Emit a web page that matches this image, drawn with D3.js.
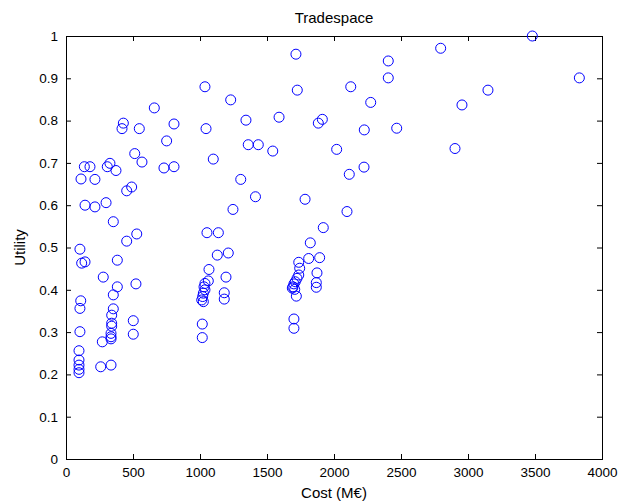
<!DOCTYPE html>
<html>
<head>
<meta charset="utf-8">
<script src="https://cdn.jsdelivr.net/npm/d3@7"></script>
<style>
  body { margin: 0; background: #fff; }
  svg text { font-family: "Liberation Sans", Arial, sans-serif; fill: #000; }
</style>
</head>
<body>
<div id="chart"></div>
<script>
// cost (M€) and utility
const cost = [
  112, 216, 137, 179, 308, 328, 373, 428, 418, 547, 513, 567, 490, 453, 142, 216,
  299, 353, 528, 453, 104, 117, 142, 383, 278, 383, 522, 353, 110, 104, 353, 341,
  341, 341, 502, 104, 336, 336, 336, 271, 502, 97, 97, 97, 97, 97, 259, 336,
  659, 751, 731, 806, 806,
  1037, 1229, 1343, 1045, 1360, 1435, 1099, 1304, 1414, 1246, 1052, 1137, 1129, 1211, 1067, 1194,
  1062, 1037, 1030, 1037, 1025, 1020, 1013, 1025, 1181, 1181, 1017, 1017,
  1716, 1726, 1590, 1913, 1883, 1543, 1784, 1920, 1823, 1811, 1893, 1737, 1744, 1873, 1737, 1724,
  1711, 1701, 1694, 1689, 1707, 1868, 1868, 1719, 1701, 1701,
  2020, 2097, 2114, 2125, 2224, 2226, 2274, 2405, 2405, 2468, 2796, 2903, 2955, 3149, 3480, 3831
];
const utility = [
  0.662, 0.661, 0.691, 0.691, 0.691, 0.699, 0.682, 0.794, 0.781, 0.781, 0.722, 0.702, 0.643, 0.634, 0.600, 0.596,
  0.606, 0.561, 0.532, 0.515, 0.496, 0.463, 0.466, 0.470, 0.430, 0.407, 0.414, 0.388, 0.374, 0.356, 0.355, 0.340,
  0.321, 0.314, 0.327, 0.301, 0.297, 0.289, 0.284, 0.277, 0.295, 0.256, 0.234, 0.222, 0.212, 0.204, 0.218, 0.222,
  0.830, 0.752, 0.688, 0.691, 0.792,
  0.880, 0.849, 0.801, 0.781, 0.743, 0.743, 0.709, 0.661, 0.620, 0.590, 0.535, 0.535, 0.482, 0.487, 0.448, 0.430,
  0.421, 0.415, 0.407, 0.400, 0.392, 0.384, 0.376, 0.372, 0.393, 0.378, 0.319, 0.287,
  0.957, 0.872, 0.808, 0.803, 0.794, 0.728, 0.614, 0.547, 0.511, 0.474, 0.476, 0.465, 0.451, 0.440, 0.435, 0.427,
  0.419, 0.414, 0.407, 0.404, 0.401, 0.417, 0.406, 0.385, 0.331, 0.309,
  0.732, 0.585, 0.673, 0.880, 0.690, 0.778, 0.843, 0.941, 0.901, 0.782, 0.971, 0.734, 0.837, 0.872, 1.0, 0.901
];
const xTicks = [0, 500, 1000, 1500, 2000, 2500, 3000, 3500, 4000];
const yTicks = [0, 0.1, 0.2, 0.3, 0.4, 0.5, 0.6, 0.7, 0.8, 0.9, 1];

const width = 620, height = 502;
const margin = {top: 36, right: 18, bottom: 43, left: 66};
const w = width - margin.left - margin.right, h = height - margin.top - margin.bottom;

const svg = d3.select('#chart').append('svg')
  .attr('width', width)
  .attr('height', height);

const g = svg.append('g')
  .attr('transform', `translate(${margin.left},${margin.top})`);

const x = d3.scaleLinear().domain([0, 4000]).range([0, w]);
const y = d3.scaleLinear().domain([0, 1]).range([h, 0]);

// axes, ticks pointing inwards like matlab
const tick = 5;
const fmt = d => String(d);

g.append('g')
  .attr('transform', `translate(0,${h})`)
  .call(d3.axisBottom(x).tickValues(xTicks).tickSizeInner(-tick).tickSizeOuter(0).tickPadding(8).tickFormat(fmt))
  .call(a => a.selectAll('text').attr('font-size', 13.5));
g.append('g')
  .call(d3.axisTop(x).tickValues(xTicks).tickSizeInner(-tick).tickSizeOuter(0).tickFormat(''));
g.append('g')
  .call(d3.axisLeft(y).tickValues(yTicks).tickSizeInner(-tick).tickSizeOuter(0).tickPadding(8).tickFormat(fmt))
  .call(a => a.selectAll('text').attr('font-size', 13.5));
g.append('g')
  .attr('transform', `translate(${w},0)`)
  .call(d3.axisRight(y).tickValues(yTicks).tickSizeInner(-tick).tickSizeOuter(0).tickFormat(''));

g.selectAll('.domain').attr('stroke', '#000');
g.selectAll('.tick line').attr('stroke', '#000');

g.append('rect')
  .attr('x', 0).attr('y', 0)
  .attr('width', w).attr('height', h)
  .attr('fill', 'none')
  .attr('stroke', '#000')
  .attr('shape-rendering', 'crispEdges');

// points
g.selectAll('circle')
  .data(cost.map((c, i) => ({cost: c, utility: utility[i]})))
  .enter()
  .append('circle')
  .attr('cx', d => x(d.cost))
  .attr('cy', d => y(d.utility))
  .attr('r', 5)
  .attr('fill', 'none')
  .attr('stroke', '#0000ff')
  .attr('stroke-width', 1);

// labels
svg.append('text')
  .attr('x', margin.left + w / 2).attr('y', 23)
  .attr('text-anchor', 'middle')
  .attr('font-size', 15)
  .text('Tradespace');
svg.append('text')
  .attr('x', margin.left + w / 2).attr('y', 498)
  .attr('text-anchor', 'middle')
  .attr('font-size', 15)
  .text('Cost (M€)');
svg.append('text')
  .attr('transform', `translate(25,${margin.top + h / 2}) rotate(-90)`)
  .attr('text-anchor', 'middle')
  .attr('font-size', 15)
  .text('Utility');
</script>
</body>
</html>
